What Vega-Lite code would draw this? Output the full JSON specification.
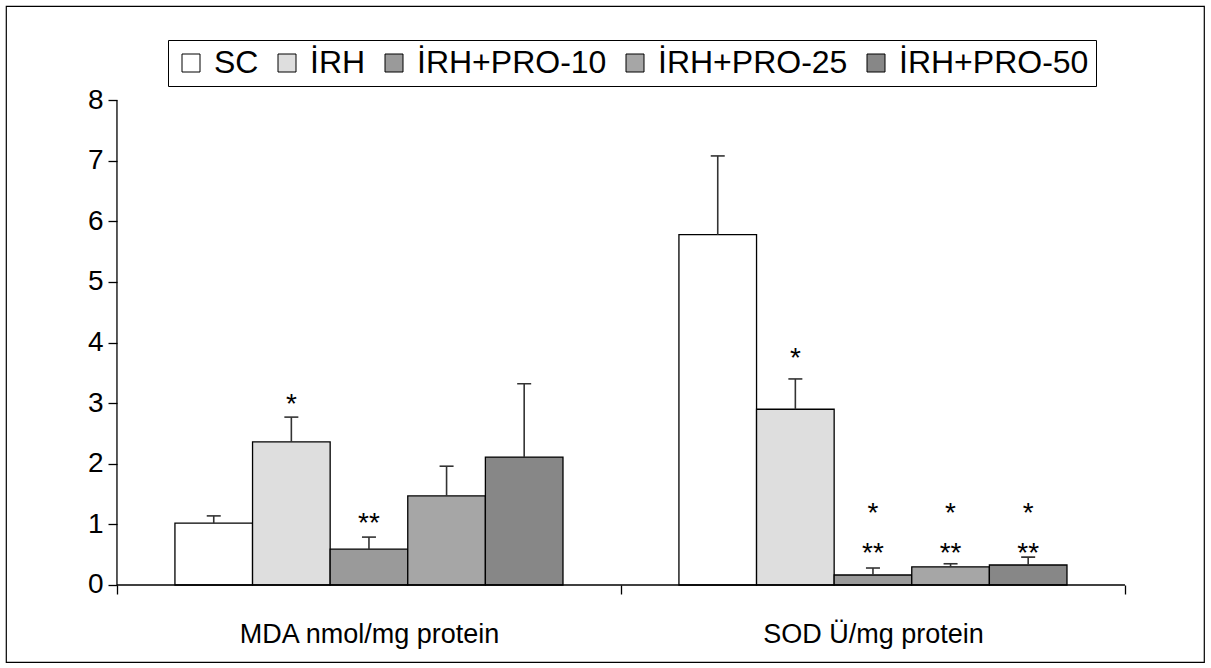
{
  "$schema": "https://vega.github.io/schema/vega-lite/v6.json",
  "width": 1198,
  "height": 656,
  "autosize": {"type": "none"},
  "padding": {"left": 6, "top": 6, "right": 7, "bottom": 6},
  "background": "#ffffff",
  "config": {
    "view": {"stroke": "#000000", "strokeWidth": 1.2},
    "font": "Liberation Sans"
  },
  "datasets": {
    "bars": [
      {"m": "MDA nmol/mg protein", "g": "SC", "v": 1.02, "e": 1.14},
      {"m": "MDA nmol/mg protein", "g": "İRH", "v": 2.36, "e": 2.77},
      {"m": "MDA nmol/mg protein", "g": "İRH+PRO-10", "v": 0.59, "e": 0.79},
      {"m": "MDA nmol/mg protein", "g": "İRH+PRO-25", "v": 1.47, "e": 1.96},
      {"m": "MDA nmol/mg protein", "g": "İRH+PRO-50", "v": 2.11, "e": 3.32},
      {"m": "SOD Ü/mg protein", "g": "SC", "v": 5.78, "e": 7.08},
      {"m": "SOD Ü/mg protein", "g": "İRH", "v": 2.90, "e": 3.40},
      {"m": "SOD Ü/mg protein", "g": "İRH+PRO-10", "v": 0.165, "e": 0.28},
      {"m": "SOD Ü/mg protein", "g": "İRH+PRO-25", "v": 0.30, "e": 0.35},
      {"m": "SOD Ü/mg protein", "g": "İRH+PRO-50", "v": 0.33, "e": 0.46}
    ],
    "stars": [
      {"m": "MDA nmol/mg protein", "g": "İRH", "y": 3.10, "t": "*"},
      {"m": "MDA nmol/mg protein", "g": "İRH+PRO-10", "y": 1.14, "t": "**"},
      {"m": "SOD Ü/mg protein", "g": "İRH", "y": 3.86, "t": "*"},
      {"m": "SOD Ü/mg protein", "g": "İRH+PRO-10", "y": 1.30, "t": "*"},
      {"m": "SOD Ü/mg protein", "g": "İRH+PRO-25", "y": 1.30, "t": "*"},
      {"m": "SOD Ü/mg protein", "g": "İRH+PRO-50", "y": 1.30, "t": "*"},
      {"m": "SOD Ü/mg protein", "g": "İRH+PRO-10", "y": 0.64, "t": "**"},
      {"m": "SOD Ü/mg protein", "g": "İRH+PRO-25", "y": 0.64, "t": "**"},
      {"m": "SOD Ü/mg protein", "g": "İRH+PRO-50", "y": 0.64, "t": "**"}
    ],
    "one": [{}]
  },
  "layer": [
    {
      "data": {"name": "bars"},
      "mark": {"type": "bar", "stroke": "#000000", "strokeWidth": 1.3, "opacity": 1},
      "encoding": {
        "x": {
          "field": "m", "type": "nominal",
          "scale": {"domain": ["MDA nmol/mg protein", "SOD Ü/mg protein"], "paddingInner": 0, "paddingOuter": 0.1885, "align": 0.584},
          "axis": {
            "title": null, "orient": "bottom", "offset": -77, "domain": false,
            "tickBand": "extent", "tickSize": 9, "tickColor": "#000000", "tickWidth": 1.3,
            "labelFontSize": 27, "labelColor": "#000000", "labelPadding": 27, "labelAngle": 0,
            "labelFont": "Liberation Sans", "labelLimit": 0
          }
        },
        "xOffset": {
          "field": "g", "type": "nominal",
          "scale": {"domain": ["SC", "İRH", "İRH+PRO-10", "İRH+PRO-25", "İRH+PRO-50"], "paddingInner": 0, "paddingOuter": 0.747}
        },
        "y": {
          "field": "v", "type": "quantitative",
          "scale": {"domain": [-1.271, 9.554], "nice": false, "zero": false},
          "axis": {
            "title": null, "offset": -111, "domain": false, "grid": false, "format": "d",
            "values": [0, 1, 2, 3, 4, 5, 6, 7, 8], "tickSize": 9, "tickColor": "#000000", "tickWidth": 1.3,
            "labelFontSize": 28, "labelColor": "#000000", "labelPadding": 5, "labelFont": "Liberation Sans"
          }
        },
        "fill": {
          "field": "g", "type": "nominal",
          "scale": {"domain": ["SC", "İRH", "İRH+PRO-10", "İRH+PRO-25", "İRH+PRO-50"], "range": ["#ffffff", "#dedede", "#9a9a9a", "#a6a6a6", "#878787"]},
          "legend": {
            "orient": "none", "legendX": 162, "legendY": 34, "direction": "horizontal", "title": null,
            "fillColor": "#ffffff", "strokeColor": "#000000", "padding": 7, "cornerRadius": 0,
            "symbolType": "square", "symbolSize": 324, "symbolStrokeColor": "#000000", "symbolStrokeWidth": 1,
            "symbolOpacity": 1, "labelFontSize": 32, "labelFont": "Liberation Sans", "labelColor": "#000000",
            "labelOffset": 7, "columnPadding": 12, "labelLimit": 0
          }
        }
      }
    },
    {
      "data": {"name": "bars"},
      "mark": {"type": "rule", "stroke": "#333333", "strokeWidth": 1.6},
      "encoding": {
        "x": {"field": "m", "type": "nominal"},
        "xOffset": {"field": "g", "type": "nominal"},
        "y": {"field": "v", "type": "quantitative"},
        "y2": {"field": "e"}
      }
    },
    {
      "data": {"name": "bars"},
      "mark": {"type": "tick", "color": "#333333", "size": 14, "thickness": 1.6, "orient": "horizontal", "opacity": 1},
      "encoding": {
        "x": {"field": "m", "type": "nominal"},
        "xOffset": {"field": "g", "type": "nominal"},
        "y": {"field": "e", "type": "quantitative"}
      }
    },
    {
      "data": {"name": "stars"},
      "mark": {"type": "text", "fontSize": 28, "font": "Liberation Sans", "color": "#000000", "baseline": "alphabetic", "dy": 16},
      "encoding": {
        "x": {"field": "m", "type": "nominal"},
        "xOffset": {"field": "g", "type": "nominal"},
        "y": {"field": "y", "type": "quantitative"},
        "text": {"field": "t"}
      }
    },
    {
      "data": {"name": "one"},
      "mark": {"type": "rule", "stroke": "#000000", "strokeWidth": 1.3},
      "encoding": {
        "x": {"datum": "MDA nmol/mg protein", "type": "nominal", "bandPosition": 0},
        "y": {"datum": 0, "type": "quantitative"},
        "y2": {"datum": 8}
      }
    },
    {
      "data": {"name": "one"},
      "mark": {"type": "rule", "stroke": "#000000", "strokeWidth": 1.3},
      "encoding": {
        "x": {"datum": "MDA nmol/mg protein", "type": "nominal", "bandPosition": 0},
        "x2": {"datum": "SOD Ü/mg protein", "bandPosition": 1},
        "y": {"datum": 0, "type": "quantitative"}
      }
    }
  ]
}
